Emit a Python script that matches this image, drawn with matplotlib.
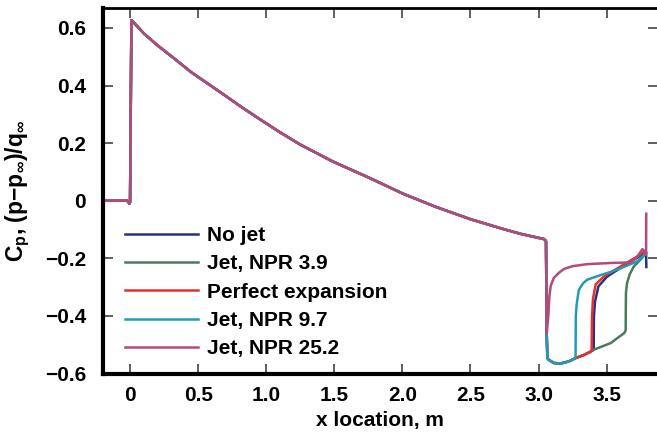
import numpy as np
import matplotlib
matplotlib.use("Agg")
import matplotlib.pyplot as plt

plt.rcParams['font.family'] = ['Liberation Sans', 'DejaVu Sans']
plt.rcParams['font.weight'] = 'bold'
plt.rcParams['mathtext.fontset'] = 'custom'
plt.rcParams['mathtext.rm'] = 'Liberation Sans:bold'
plt.rcParams['mathtext.it'] = 'Liberation Sans:bold'
plt.rcParams['mathtext.bf'] = 'Liberation Sans:bold'

# --- forebody, shared by all cases ---
body_x = [-0.2, -0.02, -0.005, 0.0, 0.01, 0.103, 0.20, 0.324, 0.447, 0.57, 0.693, 0.816,
          0.963, 1.1, 1.25, 1.49, 1.76, 2.007, 2.25, 2.5, 2.74, 2.87, 3.04, 3.055]
body_y = [0.0, 0.0, -0.01, -0.005, 0.627, 0.58, 0.54, 0.494, 0.447, 0.407, 0.367, 0.326,
          0.28, 0.238, 0.195, 0.136, 0.079, 0.024, -0.022, -0.064, -0.098, -0.115, -0.133, -0.14]

# --- separated region at the base (jet cases 3.9, perfect, 9.7, no jet) ---
base_x = [3.06, 3.065, 3.075, 3.112, 3.16, 3.22, 3.26]
base_y = [-0.46, -0.546, -0.552, -0.563, -0.565, -0.558, -0.549]

nojet_x = [3.272, 3.33, 3.38, 3.40, 3.405, 3.407, 3.415, 3.44, 3.50, 3.53, 3.63, 3.727, 3.78, 3.79, 3.792]
nojet_y = [-0.546, -0.536, -0.525, -0.519, -0.517, -0.40, -0.35, -0.297, -0.265, -0.255, -0.225, -0.197, -0.18, -0.19, -0.23]

npr39_x = [3.272, 3.33, 3.40, 3.53, 3.63, 3.64, 3.642, 3.65, 3.67, 3.70, 3.76, 3.78, 3.79]
npr39_y = [-0.546, -0.536, -0.518, -0.494, -0.459, -0.45, -0.32, -0.286, -0.255, -0.228, -0.199, -0.185, -0.18]

perf_x = [3.272, 3.33, 3.38, 3.39, 3.393, 3.40, 3.42, 3.48, 3.53, 3.63, 3.727, 3.78, 3.79]
perf_y = [-0.546, -0.536, -0.525, -0.52, -0.40, -0.34, -0.29, -0.263, -0.249, -0.22, -0.193, -0.176, -0.18]

npr97_x = [3.272, 3.274, 3.28, 3.296, 3.33, 3.358, 3.456, 3.53, 3.605, 3.727, 3.78, 3.79]
npr97_y = [-0.545, -0.40, -0.36, -0.309, -0.285, -0.274, -0.258, -0.247, -0.234, -0.21, -0.187, -0.185]

npr252_x = [3.06, 3.072, 3.08, 3.09, 3.112, 3.15, 3.186, 3.25, 3.358, 3.53, 3.677, 3.727,
            3.763, 3.78, 3.79, 3.791]
npr252_y = [-0.46, -0.40, -0.33, -0.295, -0.268, -0.25, -0.237, -0.227, -0.220, -0.216, -0.214, -0.193,
            -0.168, -0.176, -0.187, -0.045]

labels = ["No jet", "Jet, NPR 3.9", "Perfect expansion", "Jet, NPR 9.7", "Jet, NPR 25.2"]
colors = ["#2a2f86", "#4b7b5b", "#e5312b", "#1f9db8", "#b24a7c"]

series = [
    (body_x + base_x + nojet_x, body_y + base_y + nojet_y),
    (body_x + base_x + npr39_x, body_y + base_y + npr39_y),
    (body_x + base_x + perf_x, body_y + base_y + perf_y),
    (body_x + base_x + npr97_x, body_y + base_y + npr97_y),
    (body_x + npr252_x, body_y + npr252_y),
]

fig = plt.figure(figsize=(6.57, 4.38), dpi=100)
ax = fig.add_axes([0.1565, 0.147, 0.8445, 0.834])

for (xs, ys), lab, c in zip(series, labels, colors):
    ax.plot(xs, ys, color=c, lw=1.8, label=lab)

ax.set_xlim(-0.2, 3.875)
ax.set_ylim(-0.6, 0.668)

xt = [0, 0.5, 1.0, 1.5, 2.0, 2.5, 3.0, 3.5]
ax.set_xticks(xt)
ax.set_xticklabels(["0", "0.5", "1.0", "1.5", "2.0", "2.5", "3.0", "3.5"])
yt = [-0.6, -0.4, -0.2, 0, 0.2, 0.4, 0.6]
ax.set_yticks(yt)
ax.set_yticklabels(["\u22120.6", "\u22120.4", "\u22120.2", "0", "0.2", "0.4", "0.6"])

ax.tick_params(direction="in", length=7, width=1.1, color="#333333",
               top=True, right=True, labelsize=15)
ax.tick_params(axis="y", pad=12)
ax.tick_params(axis="x", pad=9)

ax.spines["left"].set_linewidth(3)
ax.spines["bottom"].set_linewidth(3)
ax.spines["top"].set_linewidth(2)
ax.spines["right"].set_visible(False)

ax.set_xlabel("x location, m", fontsize=15, fontweight="bold", labelpad=4)
ax.set_ylabel("C$_\\mathrm{p}$, (p\u2212p$_\\infty$)/q$_\\infty$", fontsize=16.5,
              fontweight="bold", labelpad=9)

ax.legend(loc="lower left", bbox_to_anchor=(0.025, 0.02), frameon=False,
          fontsize=15, handlelength=3.5, handletextpad=0.45, labelspacing=0.44,
          borderaxespad=0.0)

fig.savefig("out.png", dpi=100)
